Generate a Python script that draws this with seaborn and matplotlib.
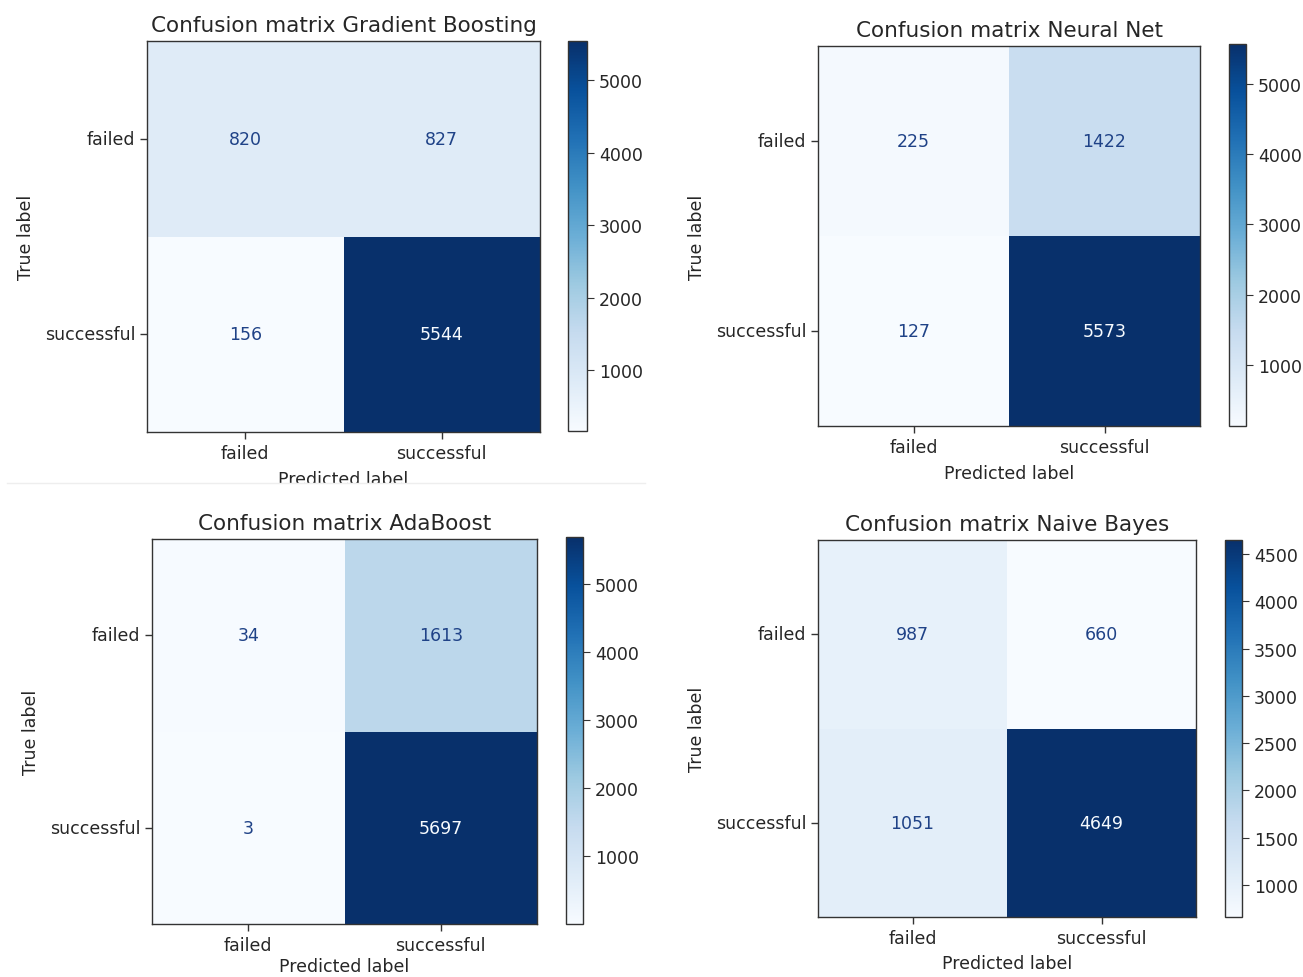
import numpy as np
import pandas as pd
import matplotlib
matplotlib.use("Agg")
import matplotlib.pyplot as plt
from matplotlib.patches import Rectangle
import seaborn as sns

# Class labels shared by all models
classes = ["failed", "successful"]

# Confusion matrices (rows: true label, columns: predicted label)
gradient_boosting = [[820, 827], [156, 5544]]
neural_net = [[225, 1422], [127, 5573]]
adaboost = [[34, 1613], [3, 5697]]
naive_bayes = [[987, 660], [1051, 4649]]

model_names = ["Gradient Boosting", "Neural Net", "AdaBoost", "Naive Bayes"]
matrices = [gradient_boosting, neural_net, adaboost, naive_bayes]

W, H = 1303, 978
fig = plt.figure(figsize=(W / 100, H / 100), dpi=100)
plt.rcParams["font.family"] = ["DejaVu Sans"]


def box(l, t, r, b):
    return [l / W, 1 - b / H, (r - l) / W, (b - t) / H]


# Pixel boxes for each heatmap and its colorbar (left, top, right, bottom),
# plus the gap under the x tick labels
layout = [
    ((147, 42, 540, 433), (568, 42, 587, 432), 6),
    ((818, 47, 1200, 427), (1229, 45, 1246, 427), 6),
    ((152, 540, 537, 925), (566, 538, 583, 925), 2.5),
    ((818, 541, 1196, 918), (1225, 541, 1242, 918), 5),
]

cmap = plt.get_cmap("Blues")
light_text = cmap(0.0)
FS = 12.5
TXT = "#262626"

for name, mat, (abox, cbox, xpad) in zip(model_names, matrices, layout):
    df = pd.DataFrame(mat, index=classes, columns=classes)
    vals = df.values
    vmin, vmax = vals.min(), vals.max()
    ax = fig.add_axes(box(*abox))
    cax = fig.add_axes(box(*cbox))
    sns.heatmap(df, ax=ax, cbar_ax=cax, cmap="Blues", vmin=vmin, vmax=vmax,
                annot=True, fmt="d", annot_kws={"fontsize": FS})
    thresh = (vmax + vmin) / 2.0
    for txt, v in zip(ax.texts, vals.ravel()):
        txt.set_color(light_text if v >= thresh else "#1f4287")
    for sp in ax.spines.values():
        sp.set_visible(True)
        sp.set_color("#333333")
        sp.set_linewidth(1.0)
    ax.tick_params(axis="both", length=5, width=1, color="#333333",
                   labelsize=FS, labelcolor=TXT)
    ax.set_yticklabels(classes, rotation=0)
    ax.set_xticklabels(classes, rotation=0)
    ax.set_title(f"Confusion matrix {name}", fontsize=15.5, color=TXT, pad=7)
    ax.set_xlabel("Predicted label", fontsize=FS, color=TXT, labelpad=xpad)
    ax.set_ylabel("True label", fontsize=FS, color=TXT, labelpad=7)
    cax.tick_params(labelsize=FS, length=5, color="#333333", labelcolor=TXT)
    cb = ax.collections[0].colorbar
    cb.outline.set_visible(True)
    cb.outline.set_edgecolor("#333333")
    cb.outline.set_linewidth(1.0)

# Lower edge of the first panel's frame, which trims its x-axis label
fig.patches.append(Rectangle((0, 1 - 500 / H), 645 / W, 16 / H,
                             transform=fig.transFigure, facecolor="white",
                             edgecolor="none", zorder=10))
fig.add_artist(plt.Line2D([7 / W, 645 / W], [1 - 484 / H, 1 - 484 / H],
                          transform=fig.transFigure, color="#eeeeee",
                          linewidth=1, zorder=11))

fig.savefig("out.png", dpi=100, facecolor="white")
